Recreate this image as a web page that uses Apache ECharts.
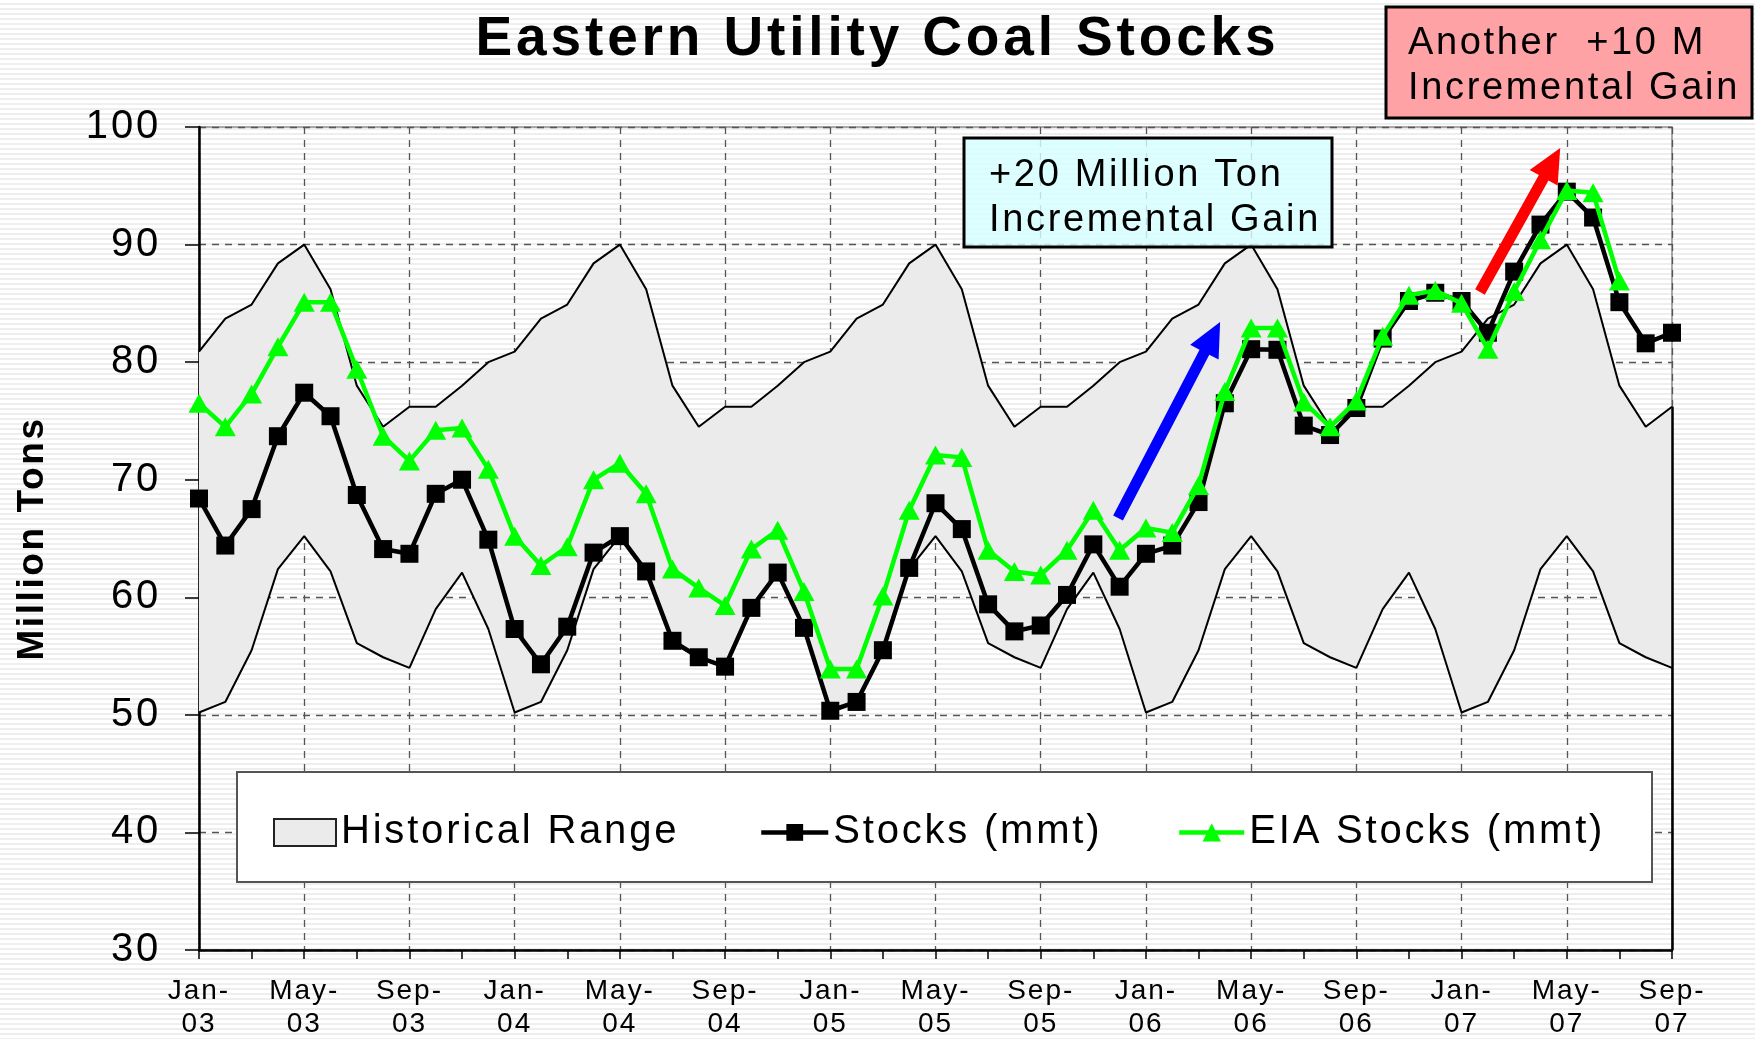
<!DOCTYPE html>
<html><head><meta charset="utf-8">
<script src="https://cdn.jsdelivr.net/npm/echarts@6/dist/echarts.min.js"></script>
<style>
html,body{margin:0;padding:0;width:1755px;height:1039px;overflow:hidden;
background:repeating-linear-gradient(to bottom,#ffffff 0px,#ffffff 3px,#eeeeee 3px,#eeeeee 5px);}
#chart{width:1755px;height:1039px;}
</style></head><body><div id="chart"></div>
<script>
// Excel-like letter spacing for all canvas text (measure and draw consistently)
(function(){
  var P = CanvasRenderingContext2D.prototype;
  if (!('letterSpacing' in P)) return;
  function sp(font){ var m = /(\d+(?:\.\d+)?)px/.exec(font || ''); return m ? (parseFloat(m[1]) * 0.07).toFixed(2) + 'px' : '0px'; }
  var mt = P.measureText, ft = P.fillText, st = P.strokeText;
  P.measureText = function(t){ this.letterSpacing = sp(this.font); return mt.call(this, t); };
  P.fillText = function(){ this.letterSpacing = sp(this.font); return ft.apply(this, arguments); };
  P.strokeText = function(){ this.letterSpacing = sp(this.font); return st.apply(this, arguments); };
})();

const categories = [
 'Jan-03','Feb-03','Mar-03','Apr-03','May-03','Jun-03','Jul-03','Aug-03','Sep-03','Oct-03','Nov-03','Dec-03',
 'Jan-04','Feb-04','Mar-04','Apr-04','May-04','Jun-04','Jul-04','Aug-04','Sep-04','Oct-04','Nov-04','Dec-04',
 'Jan-05','Feb-05','Mar-05','Apr-05','May-05','Jun-05','Jul-05','Aug-05','Sep-05','Oct-05','Nov-05','Dec-05',
 'Jan-06','Feb-06','Mar-06','Apr-06','May-06','Jun-06','Jul-06','Aug-06','Sep-06','Oct-06','Nov-06','Dec-06',
 'Jan-07','Feb-07','Mar-07','Apr-07','May-07','Jun-07','Jul-07','Aug-07','Sep-07'
];

const stocks = [
 68.4,64.4,67.5,73.7,77.4,75.4,68.7,64.1,63.7,68.8,70.0,64.9,
 57.3,54.3,57.5,63.8,65.2,62.2,56.3,54.9,54.1,59.1,62.1,57.4,
 50.35,51.1,55.5,62.5,68.0,65.8,59.4,57.1,57.6,60.2,64.5,60.9,
 63.7,64.4,68.1,76.5,81.1,81.05,74.6,73.8,76.1,82.0,85.2,85.9,
 85.2,82.5,87.7,91.7,94.5,92.3,85.1,81.6,82.5
];

const eiaStocks = [
 76.5,74.5,77.3,81.3,85.1,85.1,79.4,73.7,71.6,74.2,74.4,70.9,
 65.2,62.7,64.3,70.0,71.4,68.8,62.4,60.8,59.3,64.1,65.7,60.5,
 53.9,53.9,60.1,67.4,72.1,71.9,64.0,62.2,61.9,64.0,67.4,64.0,
 65.9,65.5,69.5,77.5,82.9,82.9,76.6,74.5,76.7,82.2,85.7,86.1,
 85.0,81.1,86.0,90.4,94.6,94.4,86.9,null,null
];

const rangeUpper = [
 80.9,83.7,84.9,88.4,90.0,86.2,78.0,74.5,76.2,76.2,78.0,80.0,
 80.9,83.7,84.9,88.4,90.0,86.2,78.0,74.5,76.2,76.2,78.0,80.0,
 80.9,83.7,84.9,88.4,90.0,86.2,78.0,74.5,76.2,76.2,78.0,80.0,
 80.9,83.7,84.9,88.4,90.0,86.2,78.0,74.5,76.2,76.2,78.0,80.0,
 80.9,83.7,84.9,88.4,90.0,86.2,78.0,74.5,76.2
];

const rangeLower = [
 50.2,51.1,55.5,62.4,65.2,62.2,56.1,54.9,54.0,59.0,62.1,57.3,
 50.2,51.1,55.5,62.4,65.2,62.2,56.1,54.9,54.0,59.0,62.1,57.3,
 50.2,51.1,55.5,62.4,65.2,62.2,56.1,54.9,54.0,59.0,62.1,57.3,
 50.2,51.1,55.5,62.4,65.2,62.2,56.1,54.9,54.0,59.0,62.1,57.3,
 50.2,51.1,55.5,62.4,65.2,62.2,56.1,54.9,54.0
];

const yMin = 30, yMax = 100, yStep = 10;

const titleText = 'Eastern Utility Coal Stocks';
const yAxisTitle = 'Million Tons';
const noteBlue = '+20 Million Ton\nIncremental Gain';
const notePink = 'Another  +10 M\nIncremental Gain';

// arrow annotations in data space: [category index, value]
const arrowBlue = { from: [34.94, 66.74], to: [38.82, 83.41] };
const arrowRed  = { from: [48.70, 85.97], to: [51.75, 98.21] };

const FONT = 'Liberation Sans';
const rangeSpan = rangeUpper.map((u, i) => +(u - rangeLower[i]).toFixed(2));
const last = categories.length - 1;

const chart = echarts.init(document.getElementById('chart'), null, { renderer: 'canvas' });

const option = {
  backgroundColor: 'transparent',
  animation: false,
  title: {
    text: titleText, left: 'center', top: 10, padding: 0,
    textStyle: { fontFamily: FONT, fontWeight: 'bold', fontSize: 55, color: '#000' }
  },
  grid: { left: 199, right: 83, top: 127, bottom: 89, containLabel: false, outerBoundsMode: 'none',
    show: true, borderColor: '#8a8a8a', borderWidth: 1.5, backgroundColor: 'transparent' },
  legend: [
    { left: 273, top: 811, padding: 0, selectedMode: false, itemWidth: 62, itemHeight: 27,
      textStyle: { fontFamily: FONT, fontSize: 40, color: '#000' },
      data: [{ name: 'Historical Range', icon: 'rect', itemStyle: { color: '#ebebeb', borderColor: '#222', borderWidth: 2 } }] },
    { left: 759, top: 811, padding: 0, selectedMode: false, itemWidth: 67, itemHeight: 21,
      lineStyle: { width: 4.5 },
      textStyle: { fontFamily: FONT, fontSize: 40, color: '#000' },
      data: ['Stocks (mmt)'] },
    { left: 1177, top: 811, padding: 0, selectedMode: false, itemWidth: 65, itemHeight: 23,
      lineStyle: { width: 4.5 },
      textStyle: { fontFamily: FONT, fontSize: 40, color: '#000' },
      data: ['EIA Stocks (mmt)'] }
  ],
  xAxis: {
    type: 'category', data: categories, boundaryGap: false,
    axisLine: { lineStyle: { color: '#000', width: 2.5 } },
    axisTick: { show: true, interval: 1, length: 9, lineStyle: { color: '#000', width: 1.5 } },
    axisLabel: { interval: 3, margin: 25, fontFamily: FONT, fontSize: 28, lineHeight: 33, color: '#000',
      formatter: v => v.replace('-', '-\n') },
    splitLine: { show: true, interval: 3, lineStyle: { color: '#555', width: 1.3, type: [7, 6] } }
  },
  yAxis: {
    type: 'value', min: yMin, max: yMax, interval: yStep,
    name: yAxisTitle, nameLocation: 'middle', nameGap: 146, nameRotate: 90,
    nameTextStyle: { fontFamily: FONT, fontWeight: 'bold', fontSize: 37, color: '#000' },
    axisLine: { show: true, lineStyle: { color: '#000', width: 2.5 } },
    axisTick: { show: true, length: 14, lineStyle: { color: '#000', width: 1.5 } },
    axisLabel: { margin: 38, fontFamily: FONT, fontSize: 40, color: '#000' },
    splitLine: { show: true, lineStyle: { color: '#555', width: 1.3, type: [7, 6] } }
  },
  series: [
    { name: 'rangeBase', type: 'line', stack: 'range', data: rangeLower, symbol: 'none', silent: true,
      lineStyle: { color: '#000', width: 2 }, itemStyle: { color: '#000' }, z: 1 },
    { name: 'Historical Range', type: 'line', stack: 'range', data: rangeSpan, symbol: 'none', silent: true,
      lineStyle: { color: '#000', width: 2 }, itemStyle: { color: '#ebebeb' },
      areaStyle: { color: '#ebebeb', opacity: 1 }, z: 1 },
    { name: 'Stocks (mmt)', type: 'line', data: stocks, symbol: 'rect', symbolSize: 18, showAllSymbol: true,
      lineStyle: { color: '#000', width: 4.5 }, itemStyle: { color: '#000' }, z: 3,
      markLine: { silent: true, symbol: 'none', label: { show: false },
        lineStyle: { color: '#000', width: 2.5, type: 'solid' },
        data: [[{ coord: [last, yMin] }, { coord: [last, rangeUpper[last]] }]] } },
    { name: 'EIA Stocks (mmt)', type: 'line', data: eiaStocks, symbol: 'triangle', symbolSize: [21, 19], showAllSymbol: true,
      connectNulls: false,
      lineStyle: { color: '#00ff00', width: 4.5 }, itemStyle: { color: '#00ff00' }, z: 4 }
  ],
  graphic: [
    { id: 'legendBox', type: 'rect', z: 3, shape: { x: 237, y: 772, width: 1415, height: 110 },
      style: { fill: '#ffffff', stroke: '#555', lineWidth: 2 } },
    { id: 'blueBox', type: 'rect', z: 5, shape: { x: 964, y: 138, width: 368, height: 109 },
      style: { fill: 'rgba(215,255,255,0.82)', stroke: '#000', lineWidth: 3 } },
    { id: 'blueText', type: 'text', z: 6, x: 989, y: 153,
      style: { text: noteBlue, font: '38px "' + FONT + '"', fill: '#000', lineHeight: 45, verticalAlign: 'top' } },
    { id: 'pinkBox', type: 'rect', z: 5, shape: { x: 1386, y: 7, width: 366, height: 111 },
      style: { fill: '#ffa2a5', stroke: '#000', lineWidth: 3 } },
    { id: 'pinkText', type: 'text', z: 6, x: 1408, y: 21,
      style: { text: notePink, font: '38px "' + FONT + '"', fill: '#000', lineHeight: 45, verticalAlign: 'top' } }
  ]
};
chart.setOption(option);

function toPx(pt){
  const x0 = chart.convertToPixel({ xAxisIndex: 0 }, categories[0]);
  const x1 = chart.convertToPixel({ xAxisIndex: 0 }, categories[last]);
  const x = x0 + (x1 - x0) * pt[0] / last;
  const y = chart.convertToPixel({ yAxisIndex: 0 }, pt[1]);
  return [x, y];
}
function arrowPoints(a, shaftW, headW, headL){
  const T = toPx(a.from), H = toPx(a.to);
  const dx = H[0] - T[0], dy = H[1] - T[1], L = Math.hypot(dx, dy);
  const ux = dx / L, uy = dy / L, nx = -uy, ny = ux;
  const B = [H[0] - ux * headL, H[1] - uy * headL];
  return [
    [T[0] + nx * shaftW / 2, T[1] + ny * shaftW / 2],
    [B[0] + nx * shaftW / 2, B[1] + ny * shaftW / 2],
    [B[0] + nx * headW / 2, B[1] + ny * headW / 2],
    H,
    [B[0] - nx * headW / 2, B[1] - ny * headW / 2],
    [B[0] - nx * shaftW / 2, B[1] - ny * shaftW / 2],
    [T[0] - nx * shaftW / 2, T[1] - ny * shaftW / 2]
  ];
}
chart.setOption({
  graphic: [
    { id: 'arrowBlue', type: 'polygon', z: 6, shape: { points: arrowPoints(arrowBlue, 11, 32, 34) }, style: { fill: '#0000ff' } },
    { id: 'arrowRed', type: 'polygon', z: 6, shape: { points: arrowPoints(arrowRed, 11, 32, 34) }, style: { fill: '#ff0000' } }
  ]
});
</script></body></html>
